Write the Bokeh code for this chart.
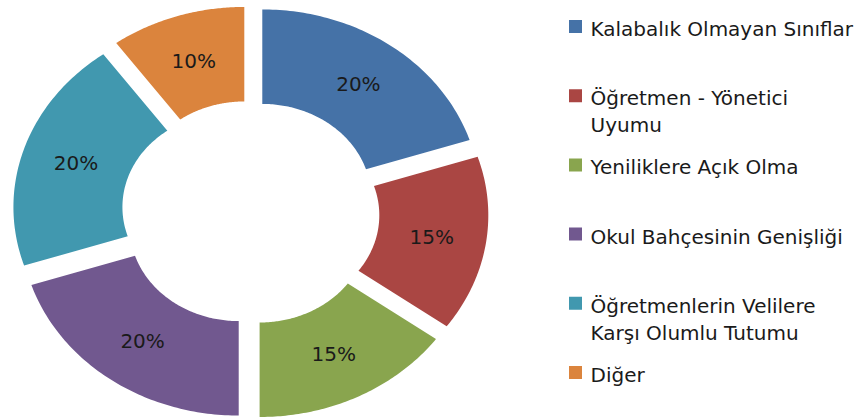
import numpy as np
from bokeh.plotting import figure
from bokeh.models import Range1d, ColumnDataSource
from bokeh.layouts import row
from bokeh.core.properties import value
from bokeh.embed import file_html
from bokeh.resources import INLINE

# ---- data ----
categories = ["Kalabalık Olmayan Sınıflar", "Öğretmen - Yönetici Uyumu",
              "Yeniliklere Açık Olma", "Okul Bahçesinin Genişliği",
              "Öğretmenlerin Velilere Karşı Olumlu Tutumu", "Diğer"]
legend_labels = ["Kalabalık Olmayan Sınıflar", "Öğretmen - Yönetici\nUyumu",
                 "Yeniliklere Açık Olma", "Okul Bahçesinin Genişliği",
                 "Öğretmenlerin Velilere\nKarşı Olumlu Tutumu", "Diğer"]
shares = [20, 15, 15, 20, 20, 10]
colors = ["#4572A7", "#AA4643", "#89A54E", "#71588F", "#4198AF", "#DB843D"]

# ---- geometry (style) ----
W1, W2, H = 560, 308, 419
PX_X, PX_Y = 218, 189        # pixels per unit radius
CX, CY = 250, 212            # center in pixels (from left / top)
HOLE = 0.5
EXPLODE = 0.092
FONT = "DejaVu Sans"

vals = np.array(shares, dtype=float)
frac = vals / vals.sum()
ends = np.cumsum(frac) * 2 * np.pi
starts = ends - frac * 2 * np.pi
mids = (starts + ends) / 2

xs, ys = [], []
for s, e, m in zip(starts, ends, mids):
    t = np.linspace(s, e, 80)
    ox, oy = EXPLODE * np.sin(m), EXPLODE * np.cos(m)
    px = np.concatenate([np.sin(t), HOLE * np.sin(t[::-1])]) + ox
    py = np.concatenate([np.cos(t), HOLE * np.cos(t[::-1])]) + oy
    xs.append(px.tolist())
    ys.append(py.tolist())

lab_r = (1 + HOLE) / 2 + EXPLODE
src = ColumnDataSource(dict(
    xs=xs, ys=ys, color=colors, cat=categories,
    lx=(lab_r * np.sin(mids)).tolist(), ly=(lab_r * np.cos(mids)).tolist(),
    lab=[f"{int(v)}%" for v in shares]))

p = figure(width=W1, height=H, output_backend="svg", toolbar_location=None,
           x_range=Range1d(-CX / PX_X, (W1 - CX) / PX_X),
           y_range=Range1d(-(H - CY) / PX_Y, CY / PX_Y),
           min_border=0, outline_line_color=None)
p.axis.visible = False
p.grid.visible = False
p.patches("xs", "ys", source=src, fill_color="color", line_color=None)
p.text("lx", "ly", text="lab", source=src, text_align="center",
       text_baseline="middle", text_font=value(FONT), text_font_size="20px",
       text_color="#1a1a1a")

# ---- legend ----
ROW0, STEP = 27, 69.2
n = len(categories)
leg = ColumnDataSource(dict(
    y=[ROW0 - 1 + i * STEP for i in range(n)],
    ty=[ROW0 + i * STEP - 10.5 for i in range(n)],
    color=colors, lab=legend_labels))
q = figure(width=W2, height=H, output_backend="svg", toolbar_location=None,
           x_range=Range1d(0, W2), y_range=Range1d(H, 0),
           min_border=0, outline_line_color=None)
q.axis.visible = False
q.grid.visible = False
q.rect(x=15, y="y", width=13, height=13, source=leg, fill_color="color",
       line_color=None)
q.text(x=30, y="ty", text="lab", source=leg, text_align="left",
       text_baseline="top", text_font=value(FONT), text_font_size="20px",
       text_line_height=1.12, text_color="#1a1a1a")

layout = row(p, q, spacing=0)
open("out.html", "w").write(file_html(layout, INLINE))
